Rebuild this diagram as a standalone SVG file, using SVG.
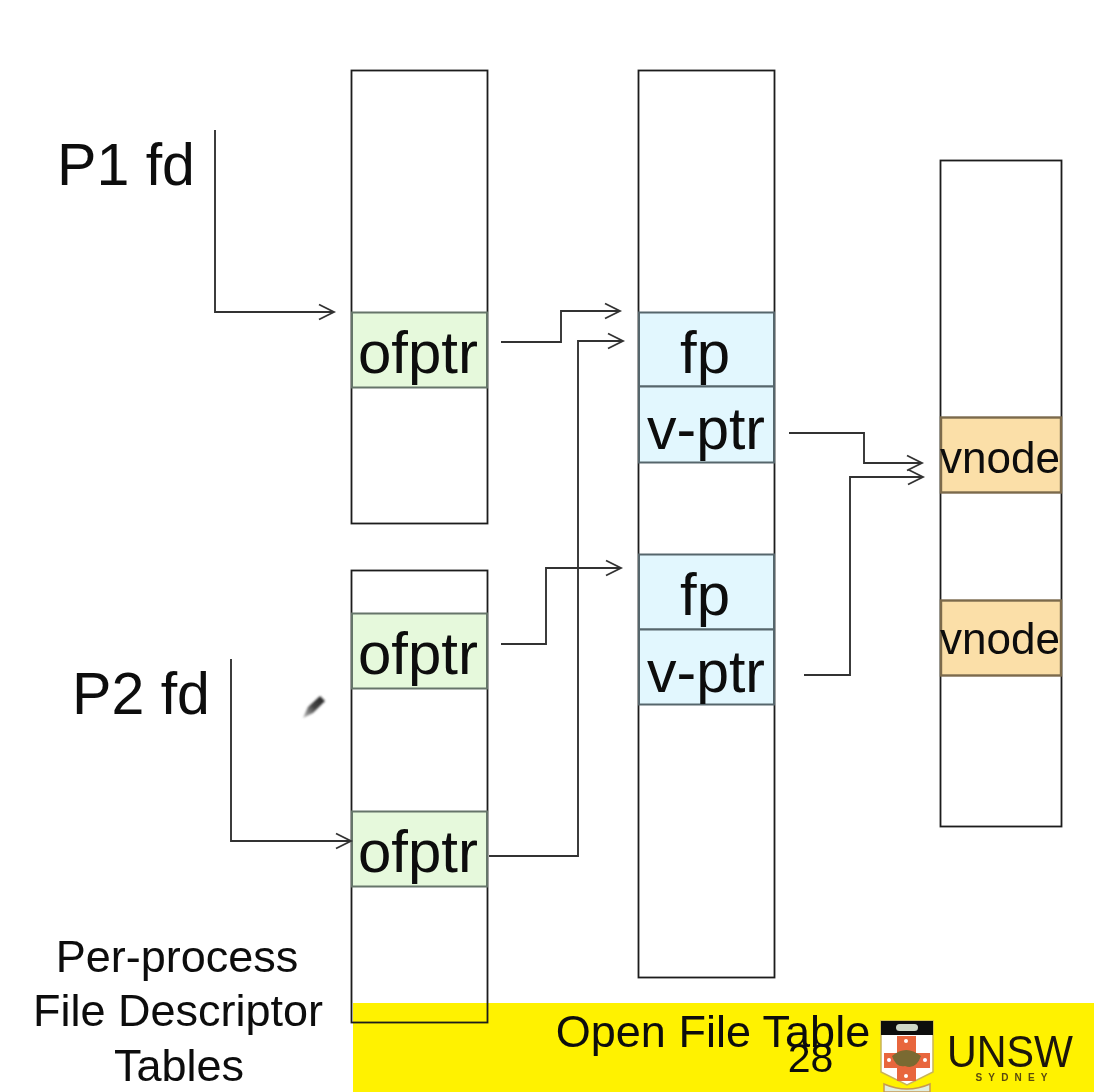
<svg xmlns="http://www.w3.org/2000/svg" width="1094" height="1092" viewBox="0 0 1094 1092">
<defs>
<marker id="arr" markerUnits="userSpaceOnUse" markerWidth="20" markerHeight="20" refX="16" refY="10" orient="auto"><path d="M1 2.500 L16 10 L1 17.500" fill="none" stroke="#333" stroke-width="1.800"/></marker>
<filter id="soft" x="-2%" y="-2%" width="104%" height="104%"><feGaussianBlur stdDeviation="0.5"/></filter>
<filter id="softer" x="-30%" y="-30%" width="160%" height="160%"><feGaussianBlur stdDeviation="1.200"/></filter>
<linearGradient id="pen" x1="0" y1="1" x2="1" y2="0"><stop offset="0" stop-color="#bbb"/><stop offset="0.5" stop-color="#444"/><stop offset="1" stop-color="#222"/></linearGradient>
</defs>
<style>
text{font-family:"Liberation Sans",Arial,sans-serif;fill:#0c0c0c;text-anchor:middle}
.t{fill:none;stroke:#1a1a1a;stroke-width:1.800}
.g{fill:#e6f9dc;stroke:#66756a;stroke-width:2}
.b{fill:#e2f7fe;stroke:#56666c;stroke-width:2}
.o{fill:#fbdfa8;stroke:#7b6a4c;stroke-width:2.400}
.c{fill:none;stroke:#333;stroke-width:1.900;marker-end:url(#arr)}
.l{font-size:60px}
.m{font-size:45px}
</style>
<rect width="1094" height="1092" fill="#fff"/>
<rect id="footer-band" x="353" y="1003" width="741" height="89" fill="#fff200"/>
<g filter="url(#soft)">
<g id="table-p1"><rect class="t" x="351.500" y="70.500" width="136" height="453"/></g>
<g id="table-p2"><rect class="t" x="351.500" y="570.500" width="136" height="452"/></g>
<g id="table-open"><rect class="t" x="638.500" y="70.500" width="136" height="907"/></g>
<g id="table-vnode"><rect class="t" x="940.500" y="160.500" width="121" height="666"/></g>
<g id="ofptr-1"><rect class="g" x="352" y="312.500" width="135" height="75"/><text class="l" x="418" y="373" textLength="120" lengthAdjust="spacingAndGlyphs">ofptr</text></g>
<g id="ofptr-2"><rect class="g" x="352" y="613.500" width="135" height="75"/><text class="l" x="418" y="674" textLength="120" lengthAdjust="spacingAndGlyphs">ofptr</text></g>
<g id="ofptr-3"><rect class="g" x="352" y="811.500" width="135" height="75"/><text class="l" x="418" y="872" textLength="120" lengthAdjust="spacingAndGlyphs">ofptr</text></g>
<g id="fp-1"><rect class="b" x="639" y="312.500" width="135" height="74"/><text class="l" x="705" y="373">fp</text></g>
<g id="vptr-1"><rect class="b" x="639" y="386.500" width="135" height="76"/><text class="l" x="706" y="449" textLength="118" lengthAdjust="spacingAndGlyphs">v-ptr</text></g>
<g id="fp-2"><rect class="b" x="639" y="554.500" width="135" height="75"/><text class="l" x="705" y="615">fp</text></g>
<g id="vptr-2"><rect class="b" x="639" y="629.500" width="135" height="75"/><text class="l" x="706" y="692" textLength="118" lengthAdjust="spacingAndGlyphs">v-ptr</text></g>
<g id="vnode-1"><rect class="o" x="941" y="417.500" width="120" height="75"/><text class="m" x="1000" y="473" textLength="120" lengthAdjust="spacingAndGlyphs">vnode</text></g>
<g id="vnode-2"><rect class="o" x="941" y="600.500" width="120" height="75"/><text class="m" x="1000" y="654" textLength="120" lengthAdjust="spacingAndGlyphs">vnode</text></g>
<g id="connectors">
<path class="c" d="M215 130 V312 H334"/>
<path class="c" d="M231 659 V841 H351"/>
<path class="c" d="M501 342 H561 V311 H620"/>
<path class="c" d="M489 856 H578 V341 H623"/>
<path class="c" d="M501 644 H546 V568 H621"/>
<path class="c" d="M789 433 H864 V463 H922"/>
<path class="c" d="M804 675 H850 V477 H923"/>
</g>
<g id="label-p1"><text x="126" y="185" style="font-size:60px" textLength="138" lengthAdjust="spacingAndGlyphs">P1 fd</text></g>
<g id="label-p2"><text x="141" y="714" style="font-size:60px" textLength="138" lengthAdjust="spacingAndGlyphs">P2 fd</text></g>
<g id="label-perprocess"><text x="177" y="972" style="font-size:45px">Per-process</text><text x="178" y="1026" style="font-size:45px">File Descriptor</text><text x="179" y="1081" style="font-size:45px">Tables</text></g>
<g id="label-open"><text x="713" y="1047" style="font-size:45px">Open File Table</text></g>
<g id="page-number"><text x="810.500" y="1072" style="font-size:41px">28</text></g>
<g id="logo">
<path d="M881 1021 H933 V1072 L907 1085 L881 1072 Z" fill="#fff" stroke="#c9b458" stroke-width="1.500"/>
<path d="M884 1084 Q907 1094 930 1084 V1092 H884 Z" fill="#dfeee0" stroke="#c79a50" stroke-width="1.500"/>
<rect x="881" y="1021" width="52" height="14" fill="#0a0a0a"/>
<rect x="896" y="1024" width="22" height="7" rx="3.500" fill="#cfd8c8"/>
<rect x="897" y="1036" width="19" height="45" fill="#e8663c"/>
<rect x="884" y="1053" width="46" height="15" fill="#e8663c"/>
<circle cx="906" cy="1041" r="2" fill="#fff"/><circle cx="906" cy="1076" r="2" fill="#fff"/><circle cx="889" cy="1060" r="2" fill="#fff"/><circle cx="925" cy="1060" r="2" fill="#fff"/>
<path d="M892 1056 Q906 1044 921 1056 Q916 1070 905 1066 Q896 1068 892 1056 Z" fill="#7a6a30"/>
<text x="1010" y="1067" style="font-size:45px;fill:#1a1408" textLength="126" lengthAdjust="spacingAndGlyphs">UNSW</text>
<text x="1011.500" y="1081" style="font-size:10px;font-weight:bold;fill:#5a4a10" textLength="72">SYDNEY</text>
</g>
</g>
<g id="cursor" filter="url(#softer)"><path d="M303 718 L308 707 L320 696 L325 701 L313 713 Z" fill="url(#pen)"/></g>
</svg>
